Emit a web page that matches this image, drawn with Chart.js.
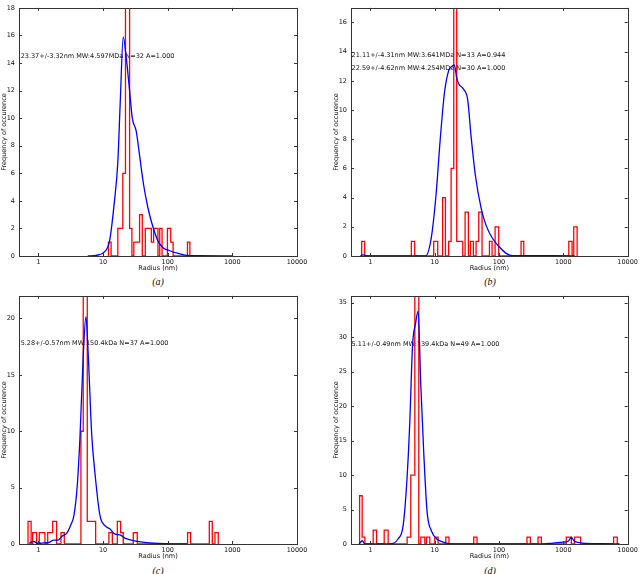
<!DOCTYPE html>
<html>
<head>
<meta charset="utf-8">
<script src="https://cdn.jsdelivr.net/npm/chart.js@4.4.0/dist/chart.umd.min.js"></script>
<style>
body{margin:0;background:#fff;width:640px;height:574px;position:relative;overflow:hidden}
canvas{position:absolute}
.cap{position:absolute;font:italic 10px "Liberation Serif",serif;color:#111;transform:translate(-50%,-50%);white-space:nowrap}
</style>
</head>
<body>
<canvas id="pa" width="320" height="272" style="left:0;top:0"></canvas>
<canvas id="pb" width="320" height="272" style="left:320px;top:0"></canvas>
<canvas id="pc" width="320" height="272" style="left:0;top:288px"></canvas>
<canvas id="pd" width="320" height="272" style="left:320px;top:288px"></canvas>
<div class="cap" style="left:158px;top:281px">(a)</div>
<div class="cap" style="left:490px;top:281px">(b)</div>
<div class="cap" style="left:158px;top:570px">(c)</div>
<div class="cap" style="left:490px;top:570px">(d)</div>
<script>
// tick labels
var xTicks = [1, 10, 100, 1000, 10000];
var yTicksA = [0, 2, 4, 6, 8, 10, 12, 14, 16, 18];
var yTicksB = [0, 2, 4, 6, 8, 10, 12, 14, 16];
var yTicksC = [0, 5, 10, 15, 20];
var yTicksD = [0, 5, 10, 15, 20, 25, 30, 35];

// histogram bin edges (nm) and counts per bin
var edgesA = [12.1, 13.3, 16.9, 20.2, 22.2, 25.7, 27.9, 29.9, 36.7, 40.4, 45.0, 55.8, 60.5, 70.6, 75.2, 81.7, 98.9, 111.4, 121.1, 202, 220];
var countsA = [1, 0, 2, 6, 20, 2, 0, 1, 3, 0, 2, 1, 2, 0, 2, 0, 2, 1, 0, 1];

var edgesB = [0.733, 0.817, 4.34, 4.89, 9.66, 11.15, 13.3, 14.7, 16.5, 18.0, 19.8, 22.0, 27.3, 29.7, 33.4, 35.9, 40.0, 44.0, 48.4, 54.5, 71.0, 78.0, 86.9, 99.0, 220, 242.5, 1216, 1368, 1452, 1637];
var countsB = [1, 0, 1, 0, 1, 0, 4, 0, 1, 6, 20, 1, 0, 3, 0, 1, 0, 1, 3, 0, 1, 0, 2, 0, 1, 0, 1, 0, 2];

var edgesC = [0.69, 0.77, 0.813, 0.938, 1.03, 1.26, 1.39, 1.66, 1.91, 2.23, 2.51, 4.54, 4.93, 5.69, 7.67, 12.3, 13.9, 16.6, 18.7, 20.5, 29.3, 33.8, 203, 226, 440, 489, 538, 605];
var countsC = [2, 0, 1, 0, 1, 0, 1, 2, 0, 1, 0, 10, 23, 2, 0, 1, 0, 2, 1, 0, 1, 0, 1, 0, 2, 0, 1];

var edgesD = [0.68, 0.746, 0.822, 1.106, 1.25, 1.64, 1.89, 3.73, 4.25, 4.91, 5.66, 6.08, 7.02, 7.45, 8.39, 10.04, 11.3, 14.9, 16.7, 40.5, 45.5, 272, 307, 404, 455, 1112, 1331, 1497, 1857, 6040, 6890];
var countsD = [7, 1, 0, 2, 0, 2, 0, 1, 10, 40, 0, 1, 0, 1, 0, 1, 0, 1, 0, 1, 0, 1, 0, 1, 0, 1, 0, 1, 0, 1];

// fitted curves
var fitXA = [5.8, 7.8, 10.5, 12.6, 15.0, 16.9, 18.4, 20.5, 22.8, 25.7, 28.3, 32.6, 36.7, 42.4, 49.4, 59.1, 70.7, 84.5, 107, 145, 195, 314, 1030];
var fitYA = [0, 0.05, 0.3, 1.1, 4.0, 6.8, 11.1, 15.9, 14.4, 12.0, 10.0, 9.05, 7.3, 5.15, 3.5, 2.1, 1.09, 0.6, 0.38, 0.19, 0.05, 0.02, 0];

var fitXB = [0.7, 0.76, 0.85, 1.0, 7.17, 8.8, 10.5, 12.1, 14.2, 16.5, 18.6, 20.2, 22.0, 23.6, 27.9, 32.6, 36.8, 43.0, 52.6, 62.9, 80, 101, 129, 164, 685, 1500];
var fitYB = [0, 0.08, 0.03, 0, 0, 1.18, 4.2, 7.8, 11.2, 12.7, 13.0, 13.1, 12.2, 11.8, 11.45, 10.7, 8.2, 5.5, 3.3, 2.1, 1.18, 0.63, 0.18, 0.02, 0.02, 0];

var fitXC = [0.72, 0.83, 0.99, 1.26, 1.51, 1.70, 2.02, 2.28, 2.73, 3.15, 3.54, 3.98, 4.39, 4.93, 5.43, 5.90, 6.66, 7.48, 8.94, 10.7, 12.8, 15.3, 18.2, 21.8, 29.3, 47.2, 96, 200];
var fitYC = [0.05, 0.23, 0.05, 0.1, 0.17, 0.35, 0.35, 0.66, 0.95, 1.67, 2.54, 5.14, 9.47, 16.7, 20.15, 16.7, 9.76, 6.3, 2.54, 1.62, 1.33, 0.87, 0.81, 0.52, 0.29, 0.12, 0.03, 0];

var fitXD = [0.67, 0.75, 0.82, 2.01, 2.71, 3.24, 3.73, 4.11, 4.52, 5.04, 5.53, 6.08, 6.77, 7.63, 8.91, 10.7, 13.5, 19.3, 428, 690, 986, 1178, 1331, 1497, 2015, 4120, 7480];
var fitYD = [0, 0.47, 0, 0, 0.76, 2.74, 9.8, 17.9, 28.7, 32.0, 33.8, 23.1, 13.1, 4.63, 1.89, 0.76, 0.28, 0, 0, 0.14, 0.28, 0.38, 0.94, 0.38, 0.14, 0.05, 0];

var fnt = {family: '"DejaVu Sans", sans-serif', size: 6.5};

// frame, inside ticks and the fit text
var deco = {
  id: 'deco',
  beforeDatasetsDraw: function(chart, args, opts) {
    var ctx = chart.ctx, xs = chart.scales.x, ys = chart.scales.y;
    ctx.save();
    ctx.fillStyle = '#111';
    ctx.font = '6.5px "DejaVu Sans"';
    ctx.textAlign = 'left';
    ctx.textBaseline = 'middle';
    opts.notes.forEach(function(n) {
      ctx.fillText(n.text, xs.getPixelForValue(n.x), ys.getPixelForValue(n.y));
    });
    ctx.restore();
  },
  afterDraw: function(chart) {
    var ctx = chart.ctx, a = chart.chartArea, xs = chart.scales.x, ys = chart.scales.y;
    ctx.save();
    ctx.strokeStyle = '#333';
    ctx.lineWidth = 1;
    ctx.strokeRect(Math.round(a.left) + 0.5, Math.round(a.top) + 0.5, Math.round(a.right - a.left), Math.round(a.bottom - a.top));
    ctx.beginPath();
    xs.ticks.forEach(function(t) {
      var px = Math.round(xs.getPixelForValue(t.value)) + 0.5;
      ctx.moveTo(px, a.bottom); ctx.lineTo(px, a.bottom - 3);
      ctx.moveTo(px, a.top); ctx.lineTo(px, a.top + 3);
    });
    ys.ticks.forEach(function(t) {
      var py = Math.round(ys.getPixelForValue(t.value)) + 0.5;
      ctx.moveTo(a.left, py); ctx.lineTo(a.left + 3, py);
      ctx.moveTo(a.right, py); ctx.lineTo(a.right - 3, py);
    });
    ctx.stroke();
    ctx.restore();
  }
};

function histPts(edges, counts) {
  var pts = [{x: edges[0], y: 0}];
  for (var i = 0; i < counts.length; i++) pts.push({x: edges[i], y: counts[i]});
  pts.push({x: edges[edges.length - 1], y: 0});
  return pts;
}

function curvePts(xs, ys) {
  return xs.map(function(x, i) { return {x: x, y: ys[i]}; });
}

function panel(id, edges, counts, fx, fy, yMax, yTicks, notes, padL, padR) {
  var ctx = document.getElementById(id).getContext('2d');
  return new Chart(ctx, {
    type: 'line',
    data: {
      datasets: [{
        data: curvePts(fx, fy),
        borderColor: '#0000ff',
        borderWidth: 1.3,
        pointRadius: 0,
        cubicInterpolationMode: 'monotone',
        clip: 0,
        order: 1
      }, {
        data: histPts(edges, counts),
        stepped: true,
        borderColor: '#ff0000',
        borderWidth: 1.3,
        pointRadius: 0,
        clip: 0,
        order: 2
      }]
    },
    options: {
      responsive: false,
      animation: false,
      devicePixelRatio: 1,
      layout: {padding: {left: padL, right: padR, top: 2, bottom: 0}},
      plugins: {legend: {display: false}, tooltip: {enabled: false}, deco: {notes: notes}},
      scales: {
        x: {
          type: 'logarithmic', min: 0.5, max: 10000,
          afterBuildTicks: function(s) { s.ticks = xTicks.map(function(v) { return {value: v}; }); },
          afterFit: function(s) { s.height = 16; },
          ticks: {autoSkip: false, maxRotation: 0, padding: 2, color: '#111', font: fnt,
                  callback: function(v) { return String(v); }},
          grid: {display: false, drawTicks: false},
          border: {display: false},
          title: {display: true, text: 'Radius (nm)', padding: 0, color: '#111', font: fnt}
        },
        y: {
          min: 0, max: yMax,
          afterBuildTicks: function(s) { s.ticks = yTicks.map(function(v) { return {value: v}; }); },
          afterFit: function(s) { s.width = 19; },
          ticks: {padding: 4, color: '#111', font: fnt},
          grid: {display: false, drawTicks: false},
          border: {display: false},
          title: {display: true, text: 'Frequency of occurence', padding: 0, color: '#111', font: fnt}
        }
      }
    },
    plugins: [deco]
  });
}

panel('pa', edgesA, countsA, fitXA, fitYA, 18, yTicksA,
  [{x: 0.53, y: 14.5, text: '23.37+/-3.32nm MW:4.597MDa N=32 A=1.000'}], 0, 23);
panel('pb', edgesB, countsB, fitXB, fitYB, 17, yTicksB,
  [{x: 0.51, y: 13.74, text: '21.11+/-4.31nm MW:3.641MDa N=33 A=0.944'},
   {x: 0.51, y: 12.85, text: '22.59+/-4.62nm MW:4.254MDa N=30 A=1.000'}], 12, 12);
panel('pc', edgesC, countsC, fitXC, fitYC, 22, yTicksC,
  [{x: 0.53, y: 17.76, text: '5.28+/-0.57nm MW:150.4kDa N=37 A=1.000'}], 0, 23);
panel('pd', edgesD, countsD, fitXD, fitYD, 36, yTicksD,
  [{x: 0.51, y: 29.0, text: '5.11+/-0.49nm MW:139.4kDa N=49 A=1.000'}], 12, 12);
</script>
</body>
</html>
